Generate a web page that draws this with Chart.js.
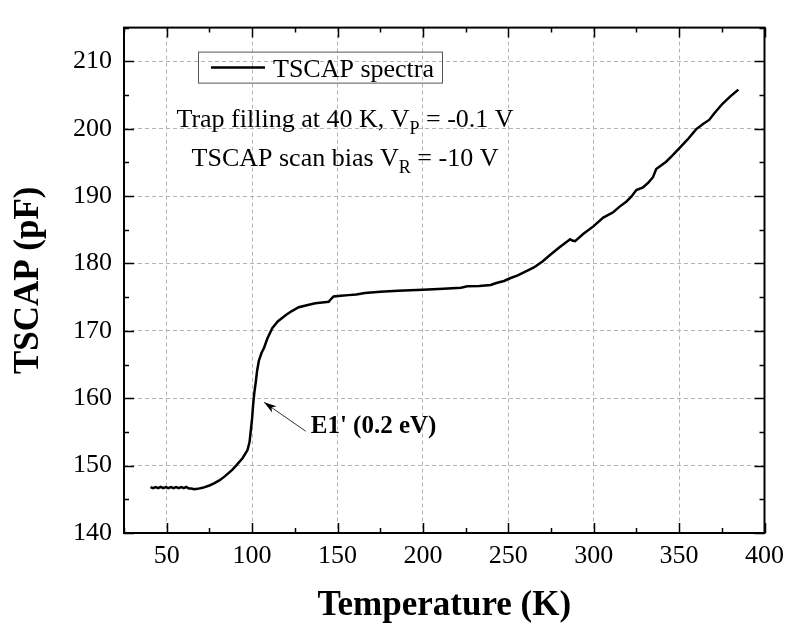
<!DOCTYPE html>
<html>
<head>
<meta charset="utf-8">
<script src="https://cdn.jsdelivr.net/npm/chart.js@4"></script>
<style>
  body { margin: 0; background: #fff; }
  canvas { display: block; }
</style>
</head>
<body>
<canvas id="chart" width="792" height="627"></canvas>
<script>
// datos: temperatura (K) y capacitancia (pF)
const temps = [40.5, 42, 43.5, 45, 46.5, 48, 49.5, 51, 52.5, 54, 55.5, 57, 58.5, 60, 61.5, 63, 64.5, 66, 68,
  71, 75, 78, 80.8, 84, 88.5, 91, 94.4, 97.3, 98.5, 99.2, 100, 100.6, 101.3, 102.1, 103, 104, 105.5, 107, 109,
  111.8, 115, 119.6, 123, 127.3, 132, 137, 141, 144.8, 146.5, 147.7, 152, 156.4, 161, 166, 175, 185.5, 200,
  212, 222.3, 226, 233, 239.7, 243, 247.5, 251, 255.2, 260, 265, 270, 274.6, 280, 286.2, 287.5, 289.1, 294,
  299.8, 305.6, 311.4, 315, 319.2, 322, 325, 328.9, 332, 334.7, 336.6, 342.4, 346, 350.2, 355, 359.9, 364,
  367.6, 371, 375.4, 380, 384.7];
const caps = [146.8, 146.65, 146.8, 146.65, 146.85, 146.65, 146.8, 146.65, 146.8, 146.65, 146.8, 146.65, 146.8, 146.65, 146.85, 146.6, 146.6, 146.5, 146.55,
  146.7, 147.05, 147.4, 147.8, 148.4, 149.4, 150.1, 151.1, 152.3, 153.5, 155.1, 157, 159, 160.8, 162.3, 164.2, 165.6, 166.7, 167.5, 168.9,
  170.4, 171.4, 172.3, 172.9, 173.5, 173.8, 174.1, 174.2, 174.3, 174.8, 175.1, 175.2, 175.3, 175.4, 175.6, 175.8, 175.96, 176.1,
  176.25, 176.4, 176.6, 176.65, 176.8, 177.1, 177.4, 177.8, 178.2, 178.8, 179.4, 180.3, 181.3, 182.4, 183.6, 183.4, 183.3, 184.4,
  185.5, 186.8, 187.6, 188.4, 189.2, 189.9, 190.9, 191.3, 192, 192.8, 194.0, 195.1, 196, 197.1, 198.4, 199.9, 200.7,
  201.3, 202.4, 203.7, 204.8, 205.8];

const serieLabel = 'TSCAP spectra';
const xTitle = 'Temperature (K)';
const yTitle = 'TSCAP (pF)';
const xMin = 25, xMax = 400, xStep = 50, xMinor = 25;
const yMin = 140, yMax = 215, yStep = 10, yMinor = 5;

// flecha del pico E1' (en unidades de datos)
const flechaPunta = { x: 107, y: 159.4 };
const flechaCola = { x: 131.4, y: 155.1 };
const flechaTexto = "E1' (0.2 eV)";

const serif = '"Liberation Serif", "Times New Roman", serif';

const puntos = temps.map((t, i) => ({ x: t, y: caps[i] }));

// plugin para marco, ticks hacia adentro, leyenda y textos
const extras = {
  id: 'extras',
  afterDatasetsDraw(chart) {
    const ctx = chart.ctx;
    const a = chart.chartArea;
    const xs = chart.scales.x, ys = chart.scales.y;
    ctx.save();
    ctx.strokeStyle = '#000';
    ctx.lineWidth = 2;
    ctx.strokeRect(a.left, a.top, a.right - a.left, a.bottom - a.top);

    ctx.lineWidth = 1.5;
    ctx.beginPath();
    for (let v = xMin; v <= xMax; v += xMinor) {
      const px = Math.round(xs.getPixelForValue(v)) + 0.5;
      const len = (v % xStep === 0) ? 10 : 5;
      ctx.moveTo(px, a.bottom); ctx.lineTo(px, a.bottom - len);
      ctx.moveTo(px, a.top); ctx.lineTo(px, a.top + len);
    }
    for (let v = yMin; v <= yMax; v += yMinor) {
      const py = Math.round(ys.getPixelForValue(v)) + 0.5;
      const len = (v % yStep === 0) ? 10 : 5;
      ctx.moveTo(a.left, py); ctx.lineTo(a.left + len, py);
      ctx.moveTo(a.right, py); ctx.lineTo(a.right - len, py);
    }
    ctx.stroke();

    // leyenda
    const lx = a.left + 74, ly = a.top + 24;
    ctx.lineWidth = 1;
    ctx.strokeStyle = '#555';
    ctx.strokeRect(lx + 0.5, ly + 0.5, 244, 31);
    ctx.strokeStyle = '#000';
    ctx.lineWidth = 2.5;
    ctx.beginPath();
    ctx.moveTo(lx + 13, ly + 16); ctx.lineTo(lx + 67, ly + 16);
    ctx.stroke();
    ctx.fillStyle = '#000';
    ctx.font = '26px ' + serif;
    ctx.textBaseline = 'alphabetic';
    ctx.textAlign = 'left';
    ctx.fillText(serieLabel, lx + 75, ly + 25);

    // textos con subindice
    const linea = (partes, cx, base) => {
      let total = 0;
      partes.forEach(p => {
        ctx.font = (p.sub ? '18px ' : '26px ') + serif;
        p.w = ctx.measureText(p.t).width;
        total += p.w;
      });
      let x = cx - total / 2;
      partes.forEach(p => {
        ctx.font = (p.sub ? '18px ' : '26px ') + serif;
        ctx.fillText(p.t, x, base + (p.sub ? 7 : 0));
        x += p.w;
      });
    };
    linea([{ t: 'Trap filling at 40 K, V' }, { t: 'P', sub: true }, { t: ' = -0.1 V' }], a.left + 221, a.top + 99);
    linea([{ t: 'TSCAP scan bias V' }, { t: 'R', sub: true }, { t: ' = -10 V' }], a.left + 221, a.top + 138);

    // flecha
    const tx = xs.getPixelForValue(flechaPunta.x), ty = ys.getPixelForValue(flechaPunta.y);
    const cx = xs.getPixelForValue(flechaCola.x), cy = ys.getPixelForValue(flechaCola.y);
    const ang = Math.atan2(ty - cy, tx - cx);
    ctx.strokeStyle = '#333';
    ctx.lineWidth = 1;
    ctx.beginPath();
    ctx.moveTo(cx, cy); ctx.lineTo(tx, ty);
    ctx.stroke();
    ctx.fillStyle = '#000';
    ctx.beginPath();
    ctx.moveTo(tx, ty);
    ctx.lineTo(tx - 13 * Math.cos(ang - 0.3), ty - 13 * Math.sin(ang - 0.3));
    ctx.lineTo(tx - 9 * Math.cos(ang), ty - 9 * Math.sin(ang));
    ctx.lineTo(tx - 13 * Math.cos(ang + 0.3), ty - 13 * Math.sin(ang + 0.3));
    ctx.closePath();
    ctx.fill();
    ctx.font = 'bold 25px ' + serif;
    ctx.textBaseline = 'middle';
    ctx.fillText(flechaTexto, cx + 5, cy - 5);
    ctx.restore();
  }
};

const ctx = document.getElementById('chart').getContext('2d');
const chart = new Chart(ctx, {
  type: 'scatter',
  data: {
    datasets: [{
      label: serieLabel,
      data: puntos,
      showLine: true,
      borderColor: '#000',
      borderWidth: 2.5,
      pointRadius: 0,
      tension: 0,
      fill: false
    }]
  },
  options: {
    responsive: false,
    animation: false,
    layout: { padding: { top: 7, right: 22, left: 0, bottom: 0 } },
    plugins: { legend: { display: false }, tooltip: { enabled: false } },
    scales: {
      x: {
        type: 'linear',
        min: xMin, max: xMax,
        afterFit: (s) => { s.height = 94; },
        grid: { color: '#b4b4b4', lineWidth: 1, drawTicks: false },
        border: { display: false, dash: [4, 3] },
        ticks: { stepSize: xStep, includeBounds: false, padding: 8, color: '#000', font: { family: serif, size: 26 } },
        title: { display: true, text: xTitle, color: '#000', padding: { top: 0, bottom: 0 }, font: { family: serif, size: 35, weight: 'bold' } }
      },
      y: {
        type: 'linear',
        min: yMin, max: yMax,
        afterFit: (s) => { s.width = 124; },
        grid: { color: '#b4b4b4', lineWidth: 1, drawTicks: false },
        border: { display: false, dash: [4, 3] },
        ticks: { stepSize: yStep, includeBounds: false, padding: 12, color: '#000', font: { family: serif, size: 26 } },
        title: { display: true, text: yTitle, color: '#000', padding: { top: 8, bottom: 0 }, font: { family: serif, size: 35, weight: 'bold' } }
      }
    }
  },
  plugins: [extras]
});
</script>
</body>
</html>
